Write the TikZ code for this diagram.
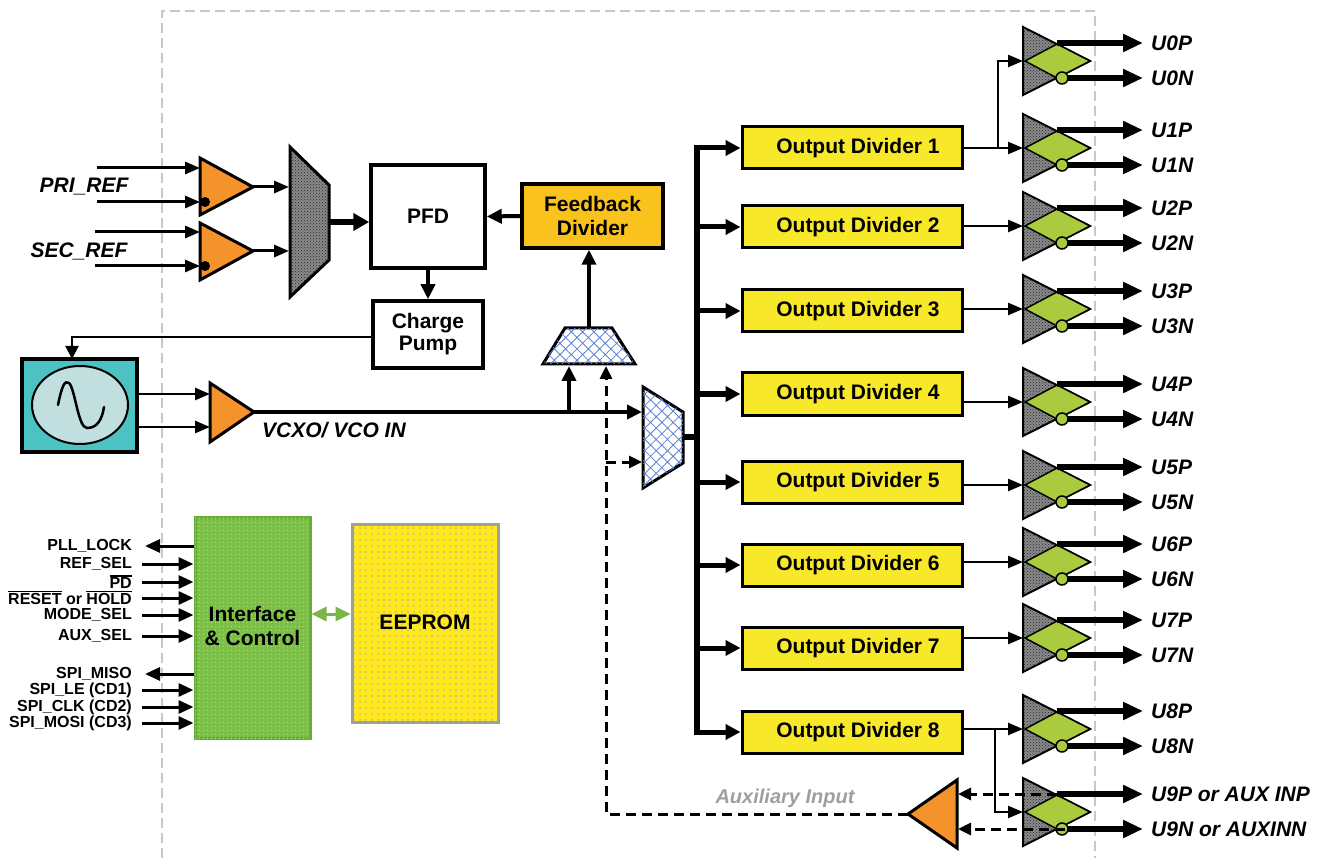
\documentclass[tikz,border=0pt]{standalone}
\usepackage{fontspec}
\setmainfont{Liberation Sans}
\usetikzlibrary{arrows.meta,patterns,patterns.meta}
\definecolor{orng}{HTML}{F4922C}
\definecolor{fbcol}{HTML}{F9C21C}
\definecolor{divyel}{HTML}{F8E82A}
\definecolor{lvgreen}{HTML}{A9CB3D}
\definecolor{ifgreen}{HTML}{7BBF46}
\definecolor{ifborder}{HTML}{6AAE3A}
\definecolor{eeyel}{HTML}{FFE81C}
\definecolor{vcxocol}{HTML}{4CC2C2}
\definecolor{osccol}{HTML}{C2DFDF}
\definecolor{muxblue}{HTML}{5F82D4}
\definecolor{bordergray}{HTML}{C8C8C8}
\definecolor{arrgreen}{HTML}{79B548}
\definecolor{texgray}{HTML}{8A8A8A}
\newcommand\fbig{\fontsize{21}{24}\selectfont\bfseries}
\newcommand\fcp{\fontsize{21}{22}\selectfont\bfseries}
\newcommand\fsig{\fontsize{16}{19}\selectfont\bfseries}
\newcommand\fital{\fontsize{21}{24}\selectfont\bfseries\itshape}
\newcommand\fauxl{\fontsize{20}{24}\selectfont\bfseries\itshape}
\newcommand\ovl[1]{\vbox{\hrule height1.4pt\kern1.2pt\hbox{#1}}}
\tikzset{
 graytex/.style={draw=black, line width=2pt, fill=texgray, postaction={pattern=crosshatch dots, pattern color=black!85}},
 bluetex/.style={draw=black, line width=3pt, fill=white, postaction={pattern={Hatch[angle=45,distance=8pt,line width=0.8pt]}, pattern color=muxblue}},
 obuf/.style={draw=black, line width=3pt, fill=orng},
 wbox/.style={draw=black, line width=3.5pt, fill=white, font=\fbig, inner sep=0pt},
 divbox/.style={draw=black, line width=3pt, fill=divyel, minimum width=220pt, minimum height=42pt, font=\fbig, inner sep=0pt},
 thinarr/.style={line width=3pt, -{Triangle[length=15pt,width=12pt]}},
 thickarr/.style={line width=5.5pt, -{Triangle[length=16pt,width=17pt]}},
 midarr/.style={line width=4pt, -{Triangle[length=15pt,width=14pt]}},
 buflink/.style={line width=2.5pt, -{Triangle[length=15pt,width=12pt]}},
 outarr/.style={line width=6pt, -{Triangle[length=20pt,width=17pt]}},
 busarr/.style={line width=5pt, -{Triangle[length=15pt,width=15pt]}},
 sigarr/.style={line width=3pt, -{Triangle[length=15pt,width=13pt]}},
 dashline/.style={line width=3pt, dash pattern=on 10pt off 6pt},
 dasharr/.style={dashline, -{Triangle[length=13pt,width=12pt]}},
 ital/.style={font=\fital, inner sep=0pt},
 ulab/.style={font=\fital, anchor=west, inner sep=0pt},
 siglab/.style={font=\fsig, anchor=east, inner sep=1pt},
 pics/lvbuf/.style n args={2}{code={
   \draw[graytex] (0,-34) -- (67,0) -- (0,34) -- cycle;
   \draw[line width=1.5pt, fill=lvgreen] (2,0) -- (34,-17) -- (67,0) -- (34,17) -- cycle;
   \coordinate (-in) at (0,0);
   \coordinate (-p) at (34,-18);
   \coordinate (-pe) at (120,-18);
   \coordinate (-n) at (42,17);
   \coordinate (-ne) at (120,17);
   \draw[outarr] (-p) -- (-pe);
   \draw[outarr] (-n) -- (-ne);
   \draw[line width=1.5pt, fill=lvgreen] (39,17) circle[radius=6pt];
   \node[ulab] (-pl) at (128,-18) {#1};
   \node[ulab] (-nl) at (128,17) {#2};
 }}
}
\begin{document}
\begin{tikzpicture}[x=1pt,y=-1pt]
\useasboundingbox (0,0) rectangle (1325,858);
% device border
\draw[bordergray, line width=2.5pt, dash pattern=on 10pt off 5pt] (162,858) -- (162,11) -- (1095,11) -- (1095,858);

% ---------- reference input buffers ----------
\coordinate (pri-s1) at (97,168);  \coordinate (pri-s2) at (97,202);
\coordinate (pri-i1) at (200,168); \coordinate (pri-i2) at (200,202);
\coordinate (pri-o) at (253,187);
\coordinate (sec-s1) at (95,232);  \coordinate (sec-s2) at (95,266);
\coordinate (sec-i1) at (200,232); \coordinate (sec-i2) at (200,266);
\coordinate (sec-o) at (253,251);
\draw[obuf] (200,158) -- (253,187) -- (200,215) -- cycle;
\draw[obuf] (200,223) -- (253,251) -- (200,280) -- cycle;
\draw[thinarr] (pri-s1) -- (pri-i1);
\draw[thinarr] (pri-s2) -- (pri-i2);
\draw[thinarr] (sec-s1) -- (sec-i1);
\draw[thinarr] (sec-s2) -- (sec-i2);
\fill (205,202) circle[radius=5pt];
\fill (205,266) circle[radius=5pt];
\node[ital] (pril) at (84,187) {PRI\_REF};
\node[ital] (secl) at (79,251) {SEC\_REF};

% ---------- reference mux ----------
\coordinate (m1-i1) at (289,187); \coordinate (m1-i2) at (289,251);
\coordinate (m1-o) at (329,222);
\draw[graytex, line width=3pt] (290,147) -- (329,185) -- (329,260) -- (290,297) -- cycle;
\draw[thinarr] (pri-o) -- (m1-i1);
\draw[thinarr] (sec-o) -- (m1-i2);

% ---------- PFD, charge pump, feedback divider ----------
\node[wbox, minimum width=114pt, minimum height=103pt] (pfd) at (428,216.5) {PFD};
\node[wbox, minimum width=110pt, minimum height=67pt, font=\fcp, align=center] (cp) at (428,334.5) {Charge\\Pump};
\node[draw=black, line width=3.5pt, fill=fbcol, minimum width=141pt, minimum height=64pt, font=\fbig, align=center, inner sep=0pt] (fbd) at (592.5,216) {Feedback\\Divider};
\draw[thickarr] (m1-o) -- (pfd.west |- m1-o);
\draw[midarr] (fbd.west) -- (pfd.east);
\draw[midarr] (pfd.south) -- (cp.north);

% ---------- VCXO ----------
\node[draw=black, line width=4pt, fill=vcxocol, minimum width=115pt, minimum height=93pt, inner sep=0pt] (vcxo) at (79.5,405.5) {};
\draw[line width=2pt, fill=osccol] (80,405) ellipse[x radius=48pt, y radius=39pt];
\draw[line width=2.5pt, line cap=round] (58,405) .. controls (62,385) and (65,380) .. (69,383) .. controls (75,388) and (78,428) .. (87,428) .. controls (97,428) and (102,420) .. (104,407);
\coordinate (cpo) at (373,337);
\coordinate (vin) at (72,359);
\draw[line width=2pt, -{Triangle[length=13pt,width=13pt]}] (cpo) -| (vin);

% VCXO input buffer
\coordinate (vb-i1) at (210,394); \coordinate (vb-i2) at (210,427);
\coordinate (vb-o) at (254,412);
\draw[obuf] (210,383) -- (254,412) -- (210,442) -- cycle;
\draw[buflink] (vcxo.east |- vb-i1) -- (vb-i1);
\draw[buflink] (vcxo.east |- vb-i2) -- (vb-i2);
\node[ital, anchor=west] (vlab) at (262,430) {VCXO/ VCO IN};

% ---------- muxes ----------
\coordinate (sm-o) at (589,328);
\coordinate (sm-i1) at (569,366); \coordinate (sm-i2) at (606,366);
\draw[bluetex] (543,364) -- (565,328) -- (612,328) -- (635,364) -- cycle;
\coordinate (bm-i1) at (642,412); \coordinate (bm-i2) at (642,462);
\coordinate (bm-o) at (683,437);
\draw[bluetex] (643,387) -- (683,412) -- (683,463) -- (643,488) -- cycle;
\coordinate (jv) at (569,412);
\draw[midarr] (vb-o) -- (bm-i1);
\draw[midarr] (jv) -- (sm-i1);
\draw[midarr] (sm-o) -- (sm-o |- fbd.south);

% ---------- output dividers and bus ----------
\foreach \i/\y in {1/148,2/227,3/311,4/394,5/482,6/565,7/648,8/732}
  \node[divbox] (d\i) at (852,\y) {\hspace*{12pt}Output Divider \i};
\coordinate (bt) at (697,148);
\coordinate (bb) at (697,732);
\draw[line width=6pt, line cap=rect] (bt) -- (bb);
\draw[line width=6pt] (bm-o) -- (bm-o -| bt);
\foreach \i in {1,...,8}
  \draw[busarr] (bt |- d\i.west) -- (d\i.west);

% ---------- output buffers ----------
\foreach \i/\y in {0/61,1/148,2/226,3/309,4/402,5/485,6/562,7/638,8/729}
  {\pic (u\i) at (1023,\y) {lvbuf={U\i P}{U\i N}};}
\pic (u9) at (1023,812) {lvbuf={U9P or AUX INP}{U9N or AUXINN}};
\foreach \i in {1,...,8}
  \draw[buflink] (d\i.east |- u\i-in) -- (u\i-in);
\coordinate (j0) at (998,148);
\draw[buflink] (j0) |- (u0-in);
\coordinate (j9) at (995,729);
\draw[buflink] (j9) |- (u9-in);

% ---------- auxiliary input ----------
\coordinate (ab-o) at (908,814);
\coordinate (ab-i1) at (958,794); \coordinate (ab-i2) at (958,829);
\draw[obuf] (957,780) -- (908,814) -- (957,848) -- cycle;
\draw[dasharr] (u9-p) -- (ab-i1);
\draw[dasharr] (u9-n) -- (ab-i2);
\draw[dasharr] (ab-o) -| (sm-i2);
\coordinate (jd) at (606,462);
\draw[dasharr] (jd) -- (bm-i2);
\node[font=\fauxl, text=gray!75, inner sep=0pt] (alab) at (785,798) {Auxiliary Input};

% ---------- interface & control, EEPROM ----------
\node[draw=ifborder, line width=3pt, fill=ifgreen, postaction={pattern={Dots[distance=4pt,radius=0.7pt]}, pattern color=ifgreen!55!white}, minimum width=115pt, minimum height=221pt, inner sep=0pt] (ifc) at (252.5,627.5) {};
\node[font=\fbig, align=center, inner sep=0pt] (ifct) at (252.5,626) {Interface\\\& Control};
\node[draw=gray!75, line width=3pt, fill=eeyel, postaction={pattern={Dots[distance=6pt,radius=0.9pt]}, pattern color=gray!65}, minimum width=146pt, minimum height=198pt, inner sep=0pt] (ee) at (425,623) {};
\node[font=\fbig, inner sep=0pt] (eet) at (425,622) {EEPROM};
\coordinate (ga) at (330,614);
\draw[arrgreen, line width=3pt, {Triangle[length=15pt,width=14pt]}-{Triangle[length=15pt,width=14pt]}] (ifc.east |- ga) -- (ee.west |- ga);

% control signals
\node[siglab] (s1) at (133,546) {PLL\_LOCK};
\node[siglab] (s2) at (133,564) {REF\_SEL};
\node[siglab] (s3) at (133,582) {\ovl{PD}};
\node[siglab] (s4) at (133,598) {\ovl{RESET} or \ovl{HOLD}};
\node[siglab] (s5) at (133,615) {MODE\_SEL};
\node[siglab] (s6) at (133,636) {AUX\_SEL};
\node[siglab] (s7) at (133,674) {SPI\_MISO};
\node[siglab] (s8) at (133,690) {SPI\_LE (CD1)};
\node[siglab] (s9) at (133,707) {SPI\_CLK (CD2)};
\node[siglab] (s10) at (133,723) {SPI\_MOSI (CD3)};
\coordinate (c1) at (145,546);
\coordinate (c7) at (145,674);
\draw[sigarr] (ifc.west |- c1) -- (c1);
\draw[sigarr] (ifc.west |- c7) -- (c7);
\foreach \k/\y in {2/564,3/582,4/598,5/615,6/636,8/690,9/707,10/723}
  {\coordinate (c\k) at (142,\y);
   \draw[sigarr] (c\k) -- (ifc.west |- c\k);}
\end{tikzpicture}
\end{document}
